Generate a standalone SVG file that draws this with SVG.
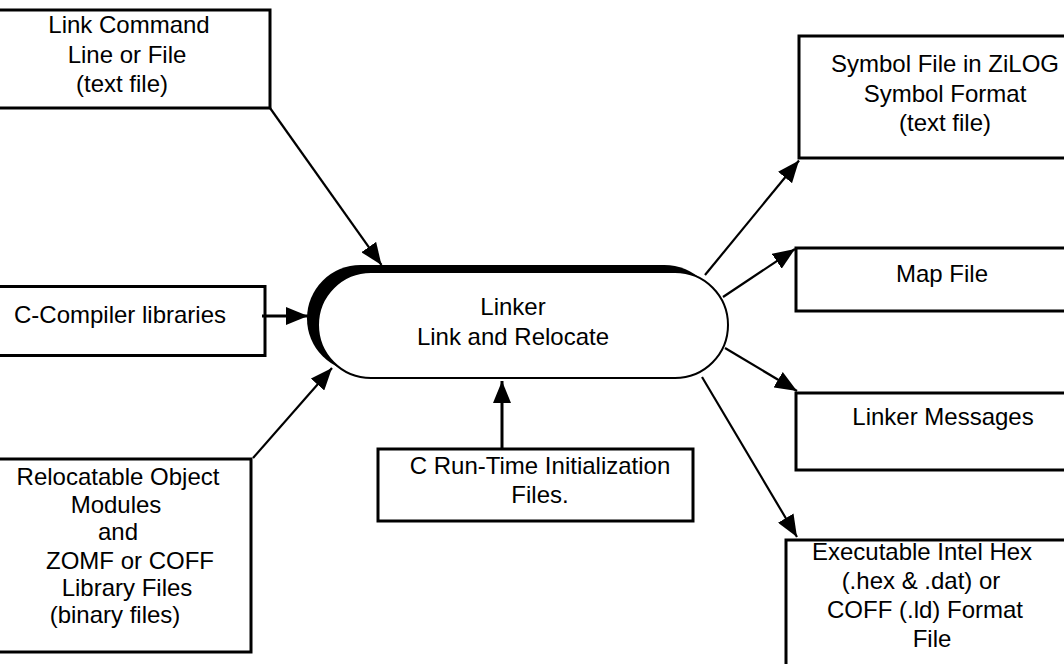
<svg xmlns="http://www.w3.org/2000/svg" width="1064" height="664" viewBox="0 0 1064 664">
  <style>
    .box { fill: #ffffff; stroke: #000000; stroke-width: 3; }
    .lbl { font-family: "Liberation Sans", Arial, sans-serif; font-size: 24px; fill: #000000; text-anchor: middle; }
    .wire { fill: none; stroke: #000000; stroke-width: 2.2; marker-end: url(#head); }
    .wire.thick { stroke-width: 3; }
  </style>
  <defs>
    <marker id="head" markerUnits="userSpaceOnUse" markerWidth="22" markerHeight="18" refX="22" refY="9" orient="auto">
      <path d="M0,0 L22,9 L0,18 Z" fill="#000000"/>
    </marker>
  </defs>
  <rect width="1064" height="664" fill="#ffffff"/>

  <!-- input: link command file -->
  <g id="link-command">
    <rect class="box" x="-10" y="10" width="280" height="98"/>
    <text class="lbl" x="129" y="33">Link Command</text>
    <text class="lbl" x="127" y="63">Line or File</text>
    <text class="lbl" x="122" y="92">(text file)</text>
  </g>

  <!-- input: compiler libraries -->
  <g id="c-compiler-libraries">
    <rect class="box" x="-10" y="286.5" width="275" height="69"/>
    <text class="lbl" x="120" y="323">C-Compiler libraries</text>
  </g>

  <!-- input: object modules and libraries -->
  <g id="relocatable-objects">
    <rect class="box" x="-10" y="459" width="261" height="193"/>
    <text class="lbl" x="118" y="485">Relocatable Object</text>
    <text class="lbl" x="116" y="513">Modules</text>
    <text class="lbl" x="118" y="540">and</text>
    <text class="lbl" x="130" y="569">ZOMF or COFF</text>
    <text class="lbl" x="127" y="596">Library Files</text>
    <text class="lbl" x="115" y="623">(binary files)</text>
  </g>

  <!-- input: C run-time startup -->
  <g id="c-runtime-init">
    <rect class="box" x="378" y="449" width="315" height="72"/>
    <text class="lbl" x="540" y="474">C Run-Time Initialization</text>
    <text class="lbl" x="540" y="503">Files.</text>
  </g>

  <!-- central process: linker -->
  <g id="linker">
    <rect x="307" y="265" width="411" height="107" rx="53.5" fill="#000000"/>
    <rect x="318" y="272" width="410" height="106" rx="53" fill="#ffffff" stroke="#000000" stroke-width="2"/>
    <text class="lbl" x="513" y="315">Linker</text>
    <text class="lbl" x="513" y="345">Link and Relocate</text>
  </g>

  <!-- outputs -->
  <g id="symbol-file">
    <rect class="box" x="799" y="36" width="280" height="122"/>
    <text class="lbl" x="945" y="72">Symbol File in ZiLOG</text>
    <text class="lbl" x="945" y="102">Symbol Format</text>
    <text class="lbl" x="945" y="131">(text file)</text>
  </g>

  <g id="map-file">
    <rect class="box" x="796" y="248" width="280" height="63"/>
    <text class="lbl" x="942" y="282">Map File</text>
  </g>

  <g id="linker-messages">
    <rect class="box" x="796" y="393" width="280" height="77"/>
    <text class="lbl" x="943" y="425">Linker Messages</text>
  </g>

  <g id="executable">
    <rect class="box" x="786" y="540" width="290" height="140"/>
    <text class="lbl" x="922" y="560">Executable Intel Hex</text>
    <text class="lbl" x="921" y="589">(.hex &amp; .dat) or</text>
    <text class="lbl" x="925" y="618">COFF (.ld) Format</text>
    <text class="lbl" x="932" y="647">File</text>
  </g>

  <!-- connectors -->
  <g id="connectors">
    <line class="wire" x1="270" y1="108" x2="381.5" y2="265"/>
    <line class="wire thick" x1="262" y1="316" x2="308" y2="316"/>
    <line class="wire" x1="253" y1="458" x2="332" y2="368"/>
    <line class="wire thick" x1="502" y1="449" x2="502" y2="381"/>
    <line class="wire" x1="705" y1="275" x2="799" y2="160.5"/>
    <line class="wire" x1="723" y1="297" x2="795" y2="249"/>
    <line class="wire" x1="725" y1="348" x2="797" y2="391"/>
    <line class="wire" x1="702" y1="377" x2="797" y2="537"/>
  </g>
</svg>
